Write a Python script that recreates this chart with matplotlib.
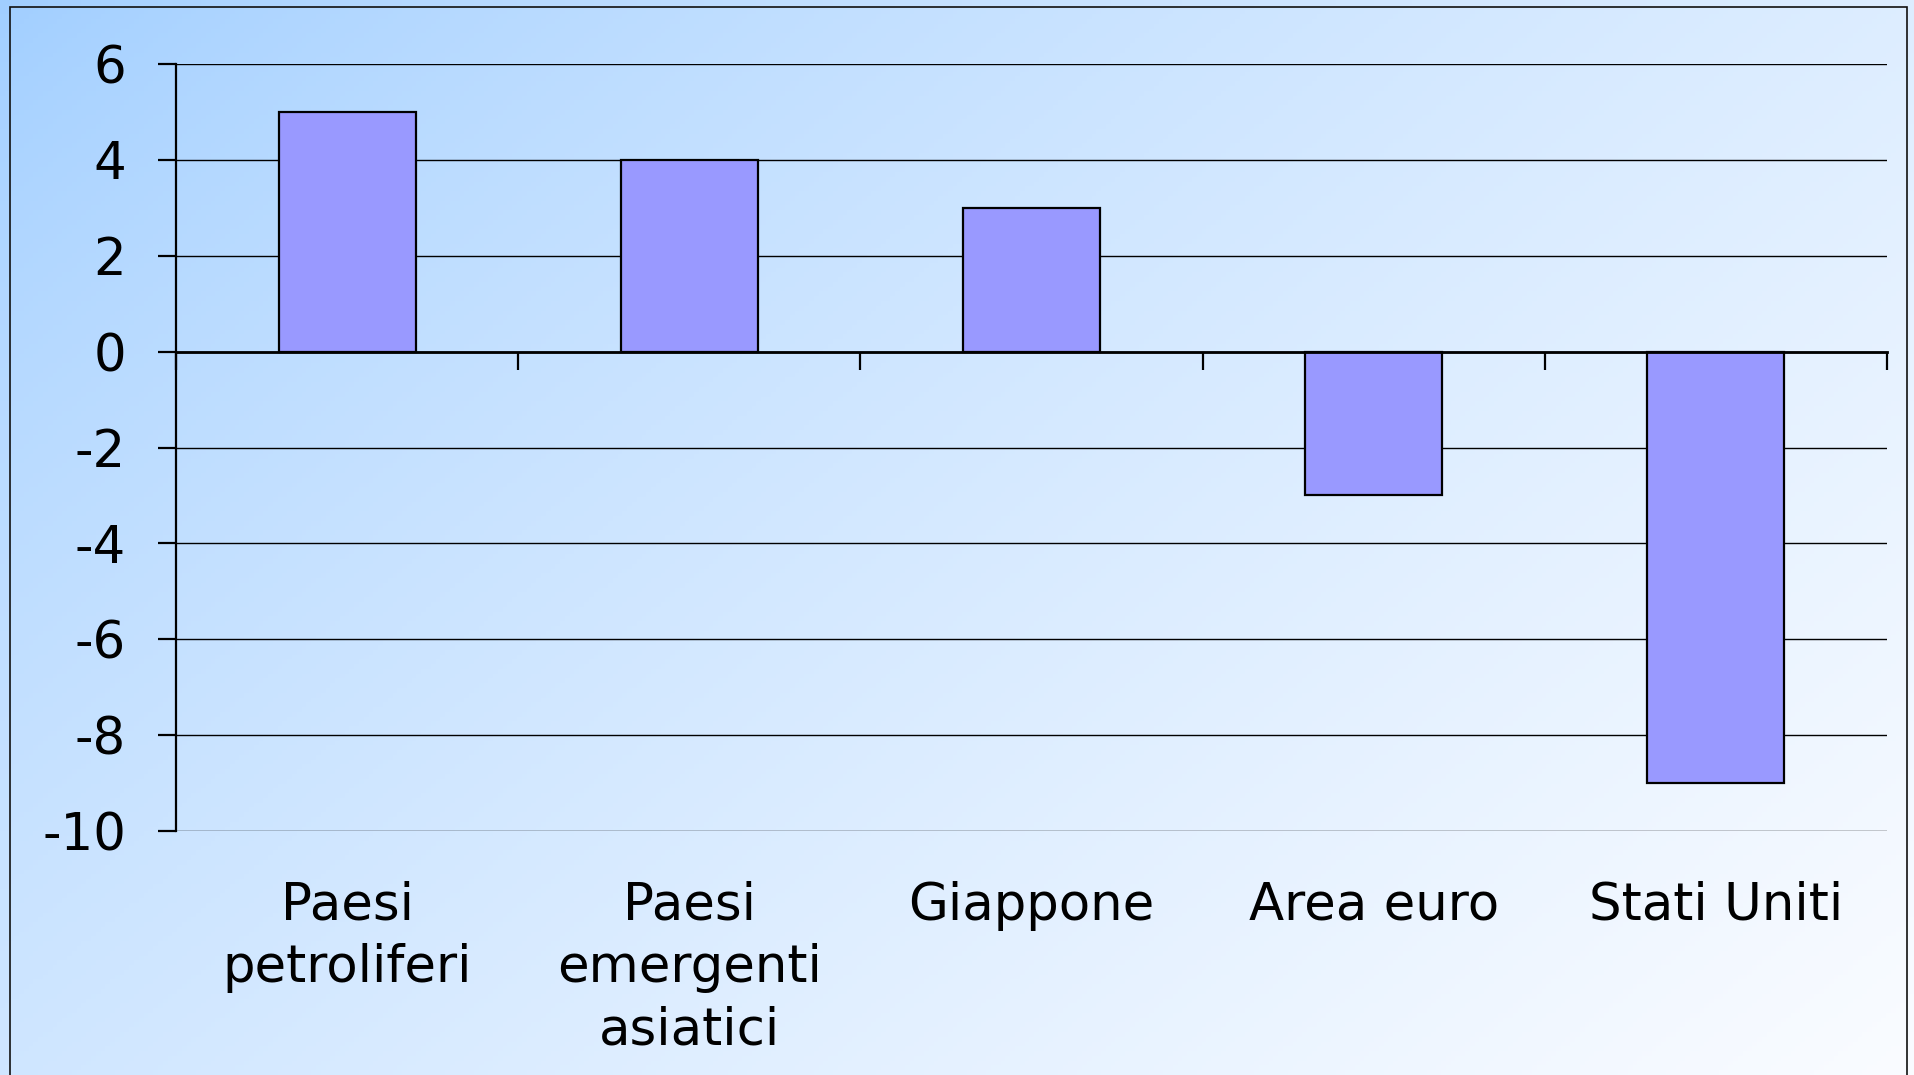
import numpy as np
import matplotlib
matplotlib.use("Agg")
import matplotlib.pyplot as plt
from matplotlib.patches import Rectangle

plt.rcParams['font.family'] = ['DejaVu Sans']
plt.rcParams['axes.unicode_minus'] = False

categories = ["Paesi\npetroliferi", "Paesi\nemergenti\nasiatici", "Giappone", "Area euro", "Stati Uniti"]
values = [5, 4, 3, -3, -9]
yticks = [-10, -8, -6, -4, -2, 0, 2, 4, 6]

W, H = 1915, 1075
fig = plt.figure(figsize=(W / 100, H / 100), dpi=100)

# background gradient
bg = fig.add_axes([0, 0, 1, 1], zorder=-10)
gx = np.linspace(0, 1, 400)[None, :]
gy = np.linspace(0, 1, 225)[:, None]
t = np.clip((gx * 1.0 + gy * 0.7) / 1.7, 0, 1) ** 0.73
c0 = np.array([160, 206, 255]) / 255.0
c1 = np.array([250, 252, 255]) / 255.0
img = c0[None, None, :] * (1 - t[..., None]) + c1[None, None, :] * t[..., None]
bg.imshow(img, aspect='auto', extent=[0, 1, 0, 1], origin='upper')
bg.set_xlim(0, 1)
bg.set_ylim(0, 1)
bg.axis('off')

# outer frame
frame = Rectangle((10 / W, -0.05), (1907 - 10) / W, 1.05 - 7 / H,
                  transform=fig.transFigure, fill=False, edgecolor='#111111',
                  linewidth=1.2, clip_on=False, zorder=-5)
fig.patches.append(frame)

ax = fig.add_axes([176 / W, 1 - 831 / H, (1887 - 176) / W, (831 - 64) / H])
ax.set_facecolor('none')

x = np.arange(len(categories))
ax.bar(x, values, width=0.4, color='#9999FF', edgecolor='black', linewidth=1.6, zorder=3)

ax.set_xlim(-0.5, len(categories) - 0.5)
ax.set_ylim(min(yticks), max(yticks))
ax.set_yticks(yticks)
ax.set_yticklabels([str(v) for v in yticks])
ax.yaxis.grid(True, color='black', linewidth=1.0, zorder=1)
ax.set_axisbelow(True)

for s in ['top', 'right']:
    ax.spines[s].set_visible(False)
ax.spines['left'].set_linewidth(1.6)
ax.spines['bottom'].set_position(('data', 0))
ax.spines['bottom'].set_linewidth(2.0)
ax.spines['bottom'].set_zorder(4)

ax.set_xticks(np.arange(-0.5, len(categories), 1.0))
ax.tick_params(axis='x', direction='out', length=13, width=1.6, labelbottom=False)
ax.tick_params(axis='y', direction='out', length=13, width=1.6, pad=23, labelsize=37)

sec = ax.secondary_xaxis('bottom')
sec.set_xticks(x)
sec.set_xticklabels(categories, fontsize=37, linespacing=1.32, multialignment='center')
sec.tick_params(axis='x', length=0, pad=36)
sec.spines['bottom'].set_visible(False)

fig.savefig("out.png", dpi=100)
